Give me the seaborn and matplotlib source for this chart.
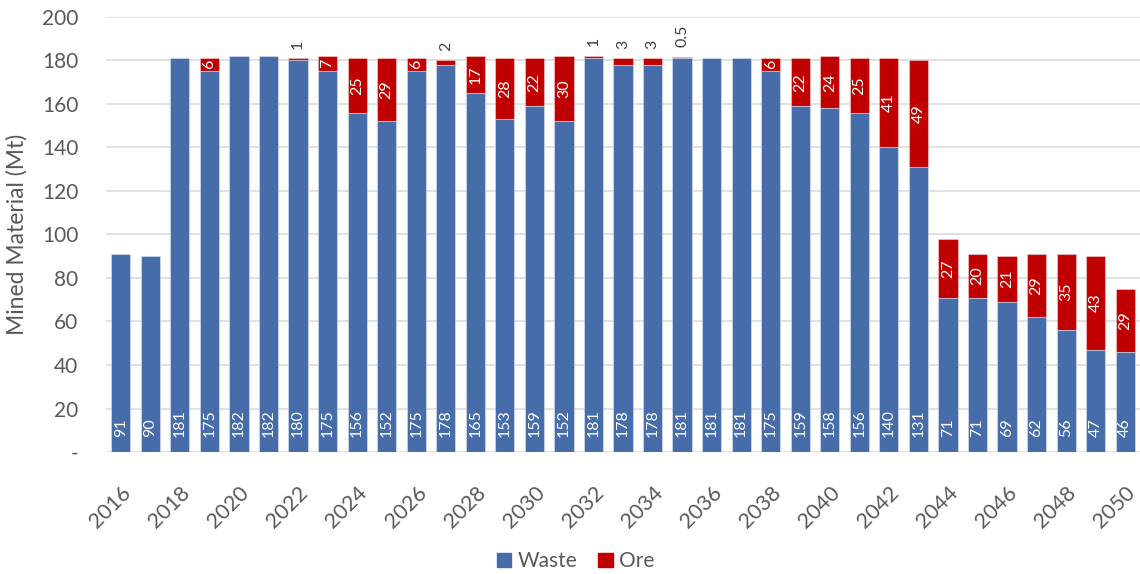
import numpy as np
import pandas as pd
import seaborn as sns
import matplotlib.pyplot as plt
from matplotlib.patches import Patch

years = list(range(2016, 2051))
waste = [91, 90, 181, 175, 182, 182, 180, 175, 156, 152,
         175, 178, 165, 153, 159, 152, 181, 178, 178, 181,
         181, 181, 175, 159, 158, 156, 140, 131, 71, 71,
         69, 62, 56, 47, 46]
ore = [0, 0, 0, 6, 0, 0, 1, 7, 25, 29,
       6, 2, 17, 28, 22, 30, 1, 3, 3, 0.5,
       0.3, 0.3, 6, 22, 24, 25, 41, 49, 27, 20,
       21, 29, 35, 43, 29]
ore_labels = ["", "", "", "6", "", "", "1", "7", "25", "29",
              "6", "2", "17", "28", "22", "30", "1", "3", "3", "0.5",
              "", "", "6", "22", "24", "25", "41", "49", "27", "20",
              "21", "29", "35", "43", "29"]
y_ticks = [0, 20, 40, 60, 80, 100, 120, 140, 160, 180, 200]
y_tick_labels = ["-", "20", "40", "60", "80", "100", "120", "140", "160", "180", "200"]

blue = "#466CAA"
red = "#C00000"
grey = "#595959"

df = pd.DataFrame({"year": [str(y) for y in years], "waste": waste, "ore": ore})

sns.set_style("white")
plt.rcParams["font.family"] = ["Lato", "DejaVu Sans"]

fig = plt.figure(figsize=(11.4, 5.74), dpi=100)
ax = fig.add_axes([0.093, 0.2125, 0.907, 0.758])

# stacked: ore sits on top of waste
sns.barplot(data=df, x="year", y="ore", bottom=df["waste"], color=red, width=0.65,
            saturation=1, edgecolor=(1, 1, 1, 0.35), linewidth=0.8, ax=ax)
sns.barplot(data=df, x="year", y="waste", color=blue, width=0.65,
            saturation=1, edgecolor=(1, 1, 1, 0.35), linewidth=0.8, ax=ax)

for i, (w, o, lab) in enumerate(zip(waste, ore, ore_labels)):
    ax.annotate(str(w), (i, 0), xytext=(0, 11), textcoords="offset points",
                rotation=90, ha="center", va="bottom", color="white", fontsize=11.5)
    if lab == "":
        continue
    if o >= 5:
        ax.text(i, w + o / 2, lab, rotation=90, ha="center", va="center",
                color="white", fontsize=11.5)
    else:
        ax.annotate(lab, (i, w + o), xytext=(0, 7), textcoords="offset points",
                    rotation=90, ha="center", va="bottom", color="#404040", fontsize=11.5)

ax.set_ylim(0, 200)
ax.set_xlim(-0.5, len(years) - 0.5)
ax.set_yticks(y_ticks)
ax.set_yticklabels(y_tick_labels)
ax.yaxis.grid(True, color="#D9D9D9", linewidth=1.1)
ax.set_axisbelow(True)
for s in ax.spines.values():
    s.set_visible(False)

xt = list(range(0, len(years), 2))
ax.set_xticks(xt)
ax.set_xticklabels([str(years[i]) for i in xt], rotation=45, ha="right",
                   rotation_mode="anchor")
ax.tick_params(axis="y", length=0, pad=20, labelsize=15, labelcolor=grey)
ax.tick_params(axis="x", length=0, pad=22, labelsize=15.5, labelcolor=grey)

ax.set_xlabel("")
ax.set_ylabel("Mined Material (Mt)", fontsize=16.5, color=grey, labelpad=10)

handles = [Patch(color=blue, label="Waste"), Patch(color=red, label="Ore")]
fig.legend(handles=handles, loc="lower center", bbox_to_anchor=(0.505, -0.028), ncol=2,
           frameon=False, fontsize=15, labelcolor=grey, handlelength=0.7,
           handleheight=0.7, handletextpad=0.3, columnspacing=1.0)

fig.savefig("out.png", dpi=100)
